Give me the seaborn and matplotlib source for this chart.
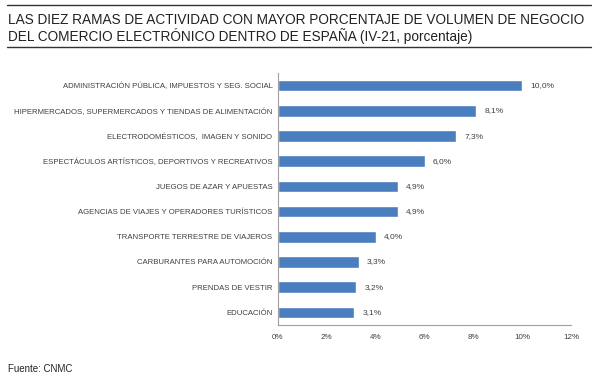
import matplotlib
matplotlib.use("Agg")
import matplotlib.pyplot as plt
import seaborn as sns
import pandas as pd
from matplotlib.ticker import FuncFormatter, MultipleLocator

ramas = [
    "ADMINISTRACIÓN PÚBLICA, IMPUESTOS Y SEG. SOCIAL",
    "HIPERMERCADOS, SUPERMERCADOS Y TIENDAS DE ALIMENTACIÓN",
    "ELECTRODOMÉSTICOS,  IMAGEN Y SONIDO",
    "ESPECTÁCULOS ARTÍSTICOS, DEPORTIVOS Y RECREATIVOS",
    "JUEGOS DE AZAR Y APUESTAS",
    "AGENCIAS DE VIAJES Y OPERADORES TURÍSTICOS",
    "TRANSPORTE TERRESTRE DE VIAJEROS",
    "CARBURANTES PARA AUTOMOCIÓN",
    "PRENDAS DE VESTIR",
    "EDUCACIÓN",
]
porcentaje = [10.0, 8.1, 7.3, 6.0, 4.9, 4.9, 4.0, 3.3, 3.2, 3.1]

df = pd.DataFrame({"rama": ramas, "pct": porcentaje})

sns.set_style("white")
plt.rcParams["font.family"] = ["Liberation Sans", "DejaVu Sans"]

fig = plt.figure(figsize=(6, 3.91), dpi=100)
ax = fig.add_axes([0.4633, 0.169, 0.4884, 0.644])
sns.barplot(data=df, x="pct", y="rama", color="#4a7ebf", width=0.46, ax=ax, saturation=1)

for i, v in enumerate(porcentaje):
    ax.text(v + 0.35, i, f"{v:.1f}%".replace(".", ","), va="center", ha="left",
            fontsize=6, color="#404040")

ax.set_xlim(0, 12)
ax.set_ylim(9.5, -0.5)
ax.xaxis.set_major_locator(MultipleLocator(2))
ax.xaxis.set_major_formatter(FuncFormatter(lambda x, p: f"{x:.0f}%"))
ax.set_xlabel(""); ax.set_ylabel("")
ax.set_yticks([i - 0.5 for i in range(11)], minor=True)
ax.tick_params(axis="y", which="major", length=0, labelsize=5.6, labelcolor="#404040", pad=4)
ax.tick_params(axis="y", which="minor", length=3, color="#a0a0a0", direction="out")
ax.tick_params(axis="x", length=3, color="#a0a0a0", labelsize=5.8, labelcolor="#404040", direction="out")
for s in ["top", "right"]:
    ax.spines[s].set_visible(False)
for s in ["left", "bottom"]:
    ax.spines[s].set_color("#a0a0a0")
    ax.spines[s].set_linewidth(0.8)

# title block with rules
fig.add_artist(plt.Line2D([0.012, 0.985], [0.987, 0.987], color="#333333", lw=1))
fig.add_artist(plt.Line2D([0.012, 0.985], [0.880, 0.880], color="#333333", lw=1))
fig.text(0.013, 0.9386, "LAS DIEZ RAMAS DE ACTIVIDAD CON MAYOR PORCENTAJE DE VOLUMEN DE NEGOCIO",
         fontsize=9.8, color="#222222", va="baseline")
fig.text(0.013, 0.895, "DEL COMERCIO ELECTRÓNICO DENTRO DE ESPAÑA (IV-21, porcentaje)",
         fontsize=9.8, color="#222222", va="baseline")
fig.text(0.013, 0.049, "Fuente: CNMC", fontsize=7, color="#222222", va="baseline")

fig.savefig("out.png", dpi=100, facecolor="white")
